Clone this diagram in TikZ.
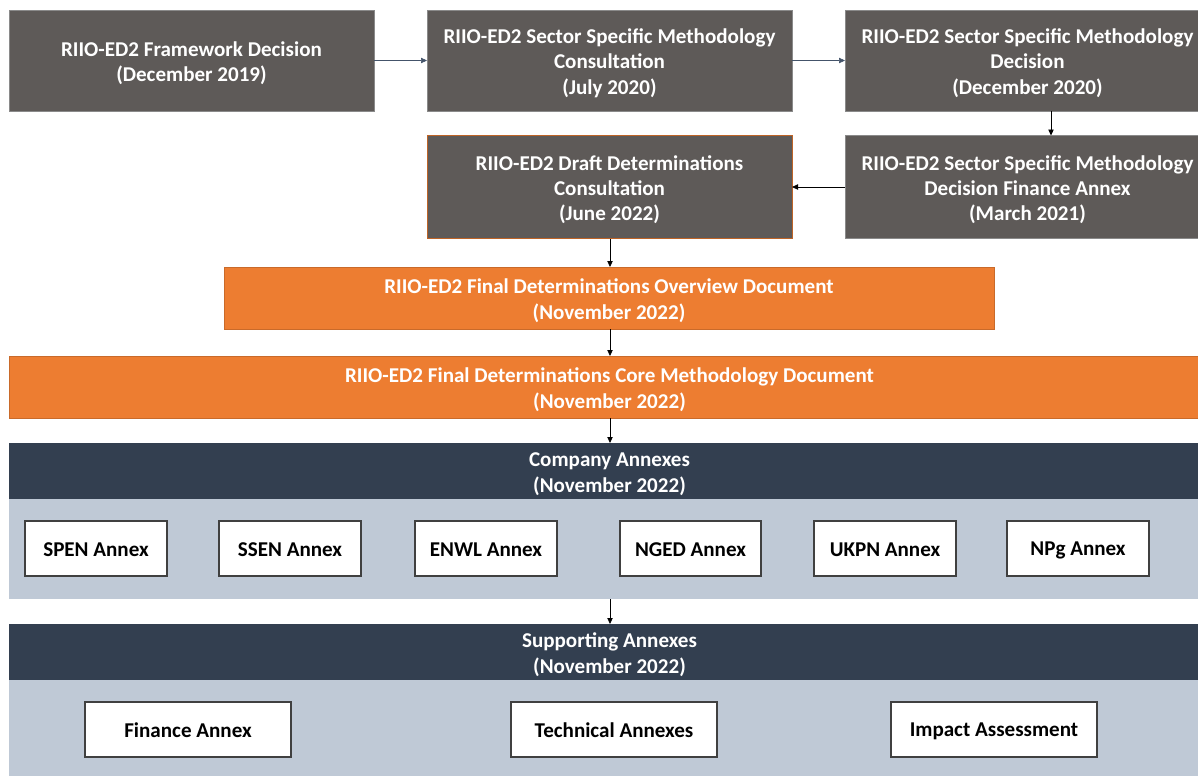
\documentclass[tikz,border=0pt]{standalone}
\usepackage{fontspec}
\setmainfont{Carlito}
\usetikzlibrary{arrows.meta}
\definecolor{gboxc}{HTML}{5E5A58}
\definecolor{gborder}{HTML}{8A8A8A}
\definecolor{orangec}{HTML}{ED7D31}
\definecolor{navyc}{HTML}{333F50}
\definecolor{lightc}{HTML}{BFC9D6}
\definecolor{arrblue}{HTML}{44546A}
\newcommand\tlstrut{\rule{0pt}{14.9pt}}
\tikzset{
  sz/.style 2 args={minimum width=#1*0.75pt, minimum height=#2*0.75pt},
  base/.style={inner sep=0pt, outer sep=0pt, align=center, font=\fontsize{15.8}{19}\selectfont\bfseries,
    execute at begin node={\rule{0pt}{12.8pt}}},
  gbox/.style={base, fill=gboxc, draw=gborder, line width=0.6pt, text=white},
  obox/.style={base, fill=orangec, draw=orangec!85!black, line width=0.6pt, text=white},
  nbox/.style={base, fill=navyc, text=white},
  lband/.style={inner sep=0pt, outer sep=0pt, fill=lightc},
  wbox/.style={base, fill=white, draw=black!75, line width=1.1pt, text=black},
  arr/.style={-{Triangle[length=4.5pt,width=4pt]}, line width=0.6pt, black},
  arrb/.style={-{Triangle[length=4.5pt,width=4pt]}, line width=0.5pt, arrblue},
}
\begin{document}
\begin{tikzpicture}[x=0.75pt,y=-0.75pt]
\clip (0,0) rectangle (1198,776);
\fill[white] (0,0) rectangle (1198,776);
% top row
\node[gbox, sz={365}{101}] (A) at (191.5,60.5) {\tlstrut RIIO-ED2 Framework Decision\\(December 2019)};
\node[gbox, sz={365}{101}] (B) at (609.5,60.5) {\tlstrut RIIO-ED2 Sector Specific Methodology\\Consultation\\(July 2020)};
\node[gbox, sz={365}{101}] (C) at (1027.5,60.5) {\tlstrut RIIO-ED2 Sector Specific Methodology\\Decision\\(December 2020)};
% second row
\node[gbox, sz={365}{103}] (D) at (1027.5,187) {\tlstrut RIIO-ED2 Sector Specific Methodology\\Decision Finance Annex\\(March 2021)};
\node[gbox, draw=orangec!80!black, sz={365}{103}] (E) at (609.5,187) {\tlstrut RIIO-ED2 Draft Determinations\\Consultation\\(June 2022)};
% orange rows
\node[obox, sz={770}{62}] (O1) at (609,298) {\tlstrut RIIO-ED2 Final Determinations Overview Document\\(November 2022)};
\node[obox, sz={1201}{62}] (O2) at (609.5,387) {\tlstrut RIIO-ED2 Final Determinations Core Methodology Document\\(November 2022)};
% company annexes
\node[nbox, sz={1201}{56}] (N1) at (609.5,471) {\tlstrut Company Annexes\\(November 2022)};
\node[lband, sz={1201}{100}] (L1) at (609.5,549) {};
\node[wbox, sz={142}{55}] (s1) at (96,548.5) {SPEN Annex};
\node[wbox, sz={142}{55}] (s2) at (290,548.5) {SSEN Annex};
\node[wbox, sz={142}{55}] (s3) at (486,548.5) {ENWL Annex};
\node[wbox, sz={141}{55}] (s4) at (690.5,548.5) {NGED Annex};
\node[wbox, sz={142}{55}] (s5) at (885,548.5) {UKPN Annex};
\node[wbox, sz={142}{55}] (s6) at (1078,548.5) {NPg Annex};
% supporting annexes
\node[nbox, sz={1201}{56}] (N2) at (609.5,652) {\tlstrut Supporting Annexes\\(November 2022)};
\node[lband, sz={1201}{96}] (L2) at (609.5,728) {};
\node[wbox, sz={206}{55}] (t1) at (188,729.5) {Finance Annex};
\node[wbox, sz={206}{55}] (t2) at (614,729.5) {Technical Annexes};
\node[wbox, sz={206}{55}] (t3) at (994,729.5) {Impact Assessment};
% connectors
\coordinate (cx) at (1051,0);
\coordinate (mx) at (610,0);
\draw[arrb] (A.east) -- (B.west);
\draw[arrb] (B.east) -- (C.west);
\draw[arr] (C.south -| cx) -- (D.north -| cx);
\draw[arr] (D.west) -- (E.east);
\draw[arr] (E.south -| mx) -- (O1.north -| mx);
\draw[arr] (O1.south -| mx) -- (O2.north -| mx);
\draw[arr] (O2.south -| mx) -- (N1.north -| mx);
\draw[arr] (L1.south -| mx) -- (N2.north -| mx);
\end{tikzpicture}
\end{document}
